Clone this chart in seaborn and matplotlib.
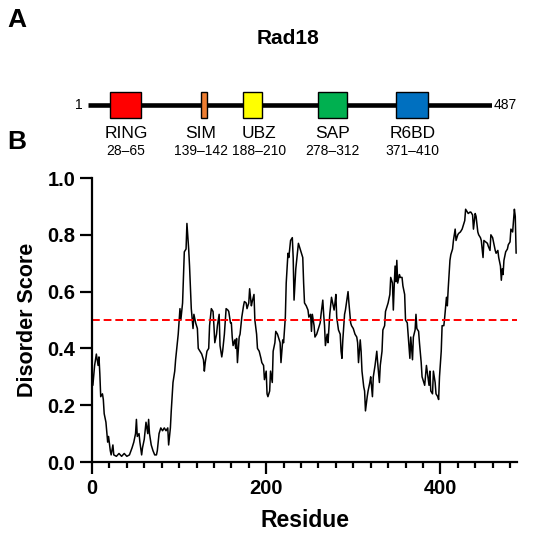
import numpy as np
import pandas as pd
import matplotlib
matplotlib.use("Agg")
import matplotlib.pyplot as plt
import seaborn as sns

# domain map of Rad18
protein_len = 487
domain_names = ["RING", "SIM", "UBZ", "SAP", "R6BD"]
domain_start = [28, 139, 188, 278, 371]
domain_end = [65, 142, 210, 312, 410]
domain_colors = ["#FF0000", "#ED7D31", "#FFFF00", "#00B050", "#0070C0"]

# disorder trace
residue = [1, 3, 5, 7, 8, 9, 10, 12, 13, 14, 16, 18, 19, 21, 22, 24, 25, 28, 31, 34,
           37, 40, 43, 46, 48, 50, 51, 52, 54, 55, 57, 58, 60, 62, 64, 65, 66, 68, 70, 72,
           74, 75, 77, 79, 81, 83, 85, 87, 88, 90, 91, 93, 95, 96, 98, 99, 101, 102, 104, 106,
           108, 109, 111, 112, 114, 116, 117, 119, 121,
           122, 124, 126, 128, 129, 130, 132, 134, 135, 137, 139, 140, 141, 143, 144, 146, 147, 149, 150, 152,
           154, 156, 157, 159, 160, 161, 162, 164, 165, 166, 167, 169, 170, 172, 174, 175, 177, 178, 180, 181,
           183, 184, 186, 187, 189, 190, 192, 194, 195, 197, 198, 200, 201, 202, 204, 205, 207, 208, 210, 211,
           213, 214, 216, 217, 219, 220, 222, 223, 225, 226, 228, 230, 231, 232, 234, 235, 237, 239,
           240, 242, 243, 244, 246, 248, 249, 251, 252, 253, 255, 256, 258, 260, 262, 263, 265, 266, 267, 268,
           270, 271, 273, 275, 276, 278, 279, 280, 281, 283, 285, 286, 287, 288, 290, 291, 293, 294, 295, 297,
           298, 300, 302, 304, 305, 306, 308, 309, 310, 312, 313, 314, 316, 317, 319, 320, 322, 323, 325, 327,
           328, 330, 331, 333, 334, 336, 337, 339, 340, 342, 343, 345, 346, 347, 348, 349, 350, 351, 353, 354,
           356, 357, 359,
           360, 362, 363, 365, 366, 368, 369, 371, 372, 373, 375, 376, 378, 379, 381, 382, 384, 386, 387, 388,
           389, 391, 392, 394, 395, 397, 398, 399, 401, 402, 404, 405, 407, 408, 409, 411, 412, 414, 415, 417,
           418, 420, 421, 423, 425, 426, 428, 429, 431, 432, 434, 435, 437, 438, 440, 441, 443, 444, 446, 447,
           449, 450, 452, 454, 455, 457, 458, 460, 461, 463, 464, 466, 467, 469, 470, 471, 472, 473, 475, 477,
           478, 480, 481, 483, 484, 485, 486, 487]
score = [0.27, 0.34, 0.38, 0.34, 0.37, 0.31, 0.23, 0.24, 0.22, 0.17, 0.14, 0.07, 0.09, 0.04, 0.025, 0.06, 0.025, 0.02, 0.03, 0.02,
         0.03, 0.02, 0.025, 0.05, 0.07, 0.10, 0.15, 0.09, 0.10, 0.07, 0.025, 0.05, 0.08, 0.14, 0.10, 0.15, 0.10, 0.06, 0.04, 0.025,
         0.025, 0.04, 0.10, 0.12, 0.11, 0.12, 0.11, 0.12, 0.06, 0.12, 0.18, 0.28, 0.32, 0.36, 0.42, 0.45, 0.54, 0.50, 0.56, 0.74,
         0.75, 0.84, 0.75, 0.69, 0.54, 0.47, 0.52, 0.49, 0.47,
         0.40, 0.39, 0.38, 0.36, 0.32, 0.35, 0.39, 0.40, 0.48, 0.54, 0.53, 0.48, 0.42, 0.45, 0.48, 0.52, 0.41, 0.37, 0.39, 0.45,
         0.54, 0.535, 0.53, 0.49, 0.49, 0.44, 0.41, 0.43, 0.40, 0.435, 0.35, 0.44, 0.45, 0.51, 0.55, 0.565, 0.56, 0.54, 0.56, 0.61,
         0.55, 0.565, 0.59, 0.50, 0.45, 0.40, 0.39, 0.365, 0.35, 0.34, 0.29, 0.32, 0.24, 0.23, 0.25, 0.32, 0.28, 0.39, 0.42, 0.46,
         0.45, 0.44, 0.42, 0.35, 0.43, 0.42, 0.51, 0.63, 0.735, 0.72, 0.78, 0.79, 0.72, 0.57, 0.68, 0.71, 0.77, 0.75,
         0.74, 0.72, 0.63, 0.56, 0.55, 0.535, 0.51, 0.52, 0.46, 0.52, 0.48, 0.44, 0.45, 0.47, 0.49, 0.52, 0.57, 0.52, 0.48, 0.41,
         0.45, 0.42, 0.52, 0.58, 0.565, 0.535, 0.56, 0.59, 0.51, 0.465, 0.45, 0.39, 0.365, 0.43, 0.52, 0.535, 0.58, 0.60, 0.56, 0.49,
         0.48, 0.47, 0.45, 0.44, 0.42, 0.35, 0.43, 0.39, 0.32, 0.265, 0.25, 0.18, 0.23, 0.25, 0.28, 0.30, 0.23, 0.30, 0.34, 0.39,
         0.35, 0.28, 0.34, 0.39, 0.465, 0.48, 0.53, 0.55, 0.56, 0.59, 0.65, 0.63, 0.535, 0.62, 0.69, 0.635, 0.71, 0.63, 0.66, 0.65,
         0.65, 0.62, 0.59,
         0.50, 0.49, 0.45, 0.365, 0.44, 0.36, 0.44, 0.465, 0.52, 0.47, 0.46, 0.42, 0.35, 0.30, 0.28, 0.27, 0.34, 0.295, 0.27, 0.32,
         0.25, 0.24, 0.32, 0.28, 0.24, 0.23, 0.22, 0.30, 0.39, 0.48, 0.48, 0.51, 0.58, 0.55, 0.61, 0.71, 0.73, 0.75, 0.78, 0.82,
         0.78, 0.80, 0.805, 0.81, 0.82, 0.83, 0.85, 0.89, 0.88, 0.875, 0.88, 0.88, 0.87, 0.82, 0.875, 0.865, 0.81, 0.80, 0.79, 0.78,
         0.72, 0.78, 0.775, 0.77, 0.76, 0.745, 0.80, 0.79, 0.775, 0.745, 0.735, 0.745, 0.72, 0.69, 0.64, 0.68, 0.66, 0.71, 0.74, 0.75,
         0.765, 0.775, 0.82, 0.81, 0.85, 0.89, 0.865, 0.735]
cutoff = 0.5

sns.set_style("ticks")
plt.rcParams["font.family"] = ["Liberation Sans", "DejaVu Sans"]
# everything in plain black like the original
for key in ["text.color", "axes.labelcolor", "xtick.color", "ytick.color", "axes.edgecolor"]:
    plt.rcParams[key] = "black"

fig = plt.figure(figsize=(5.5, 5.37), dpi=100)

# panel A: domain map
ax_dom = fig.add_axes([88 / 550, 1 - 130 / 537, 404 / 550, 50 / 537])
ax_dom.plot([1, protein_len], [0, 0], color="black", lw=3.3, zorder=1, solid_capstyle="butt")
# small sideways nudges so the labels don't run into each other
label_nudge = [0, -4, 8, 0, 1]
for name, s, e, c, dx in zip(domain_names, domain_start, domain_end, domain_colors, label_nudge):
    w = max(e - s, 7)
    mid = (s + e) / 2
    ax_dom.barh(0, w, left=mid - w / 2, height=1.04, color=c, edgecolor="black", linewidth=1, zorder=2)
    ax_dom.text(mid + dx, -1.12, name, ha="center", va="center", fontsize=12.5)
    ax_dom.text(mid + dx, -1.84, f"{s}\u2013{e}", ha="center", va="center", fontsize=10)
ax_dom.text(-5, 0, "1", ha="right", va="center", fontsize=10)
ax_dom.text(489, 0, str(protein_len), ha="left", va="center", fontsize=10)
ax_dom.set_xlim(1, protein_len)
ax_dom.set_ylim(-1, 1)
ax_dom.axis("off")

fig.text(17 / 550, 1 - 20 / 537, "A", fontsize=19, fontweight="bold", ha="center", va="center")
fig.text(17 / 550, 1 - 142 / 537, "B", fontsize=19, fontweight="bold", ha="center", va="center")
fig.text(288 / 550, 1 - 38 / 537, "Rad18", fontsize=15, fontweight="bold", ha="center", va="center")

# panel B: disorder plot
ax = fig.add_axes([92 / 550, 1 - 462 / 537, 425 / 550, 284 / 537])
df = pd.DataFrame({"Residue": residue, "Disorder Score": score})
sns.lineplot(data=df, x="Residue", y="Disorder Score", color="black", lw=1.1, ax=ax)
ax.axhline(cutoff, color="#FF0000", ls=(0, (4, 2)), lw=1.4)
ax.set_xlim(0, 488)
ax.set_ylim(0, 1.0)
ax.set_xticks([0, 200, 400])
ax.set_xticks(np.arange(0, 488, 20), minor=True)
ax.set_yticks([0.0, 0.2, 0.4, 0.6, 0.8, 1.0])
ax.set_yticklabels(["0.0", "0.2", "0.4", "0.6", "0.8", "1.0"])
sns.despine(ax=ax)
for sp in ["left", "bottom"]:
    ax.spines[sp].set_linewidth(1.6)
ax.tick_params(which="major", length=8.5, width=1.6, labelsize=14.5)
ax.tick_params(which="minor", length=4, width=1.6)
ax.tick_params(axis="y", which="minor", left=False)
for lab in ax.get_xticklabels() + ax.get_yticklabels():
    lab.set_fontweight("bold")
ax.set_xlabel("Residue", fontsize=16.5, fontweight="bold")
ax.set_ylabel("Disorder Score", fontsize=15.5, fontweight="bold")
ax.xaxis.set_label_coords(0.5, -0.165)
ax.yaxis.set_label_coords(-0.128, 0.5)

fig.savefig("out.png", dpi=100)
